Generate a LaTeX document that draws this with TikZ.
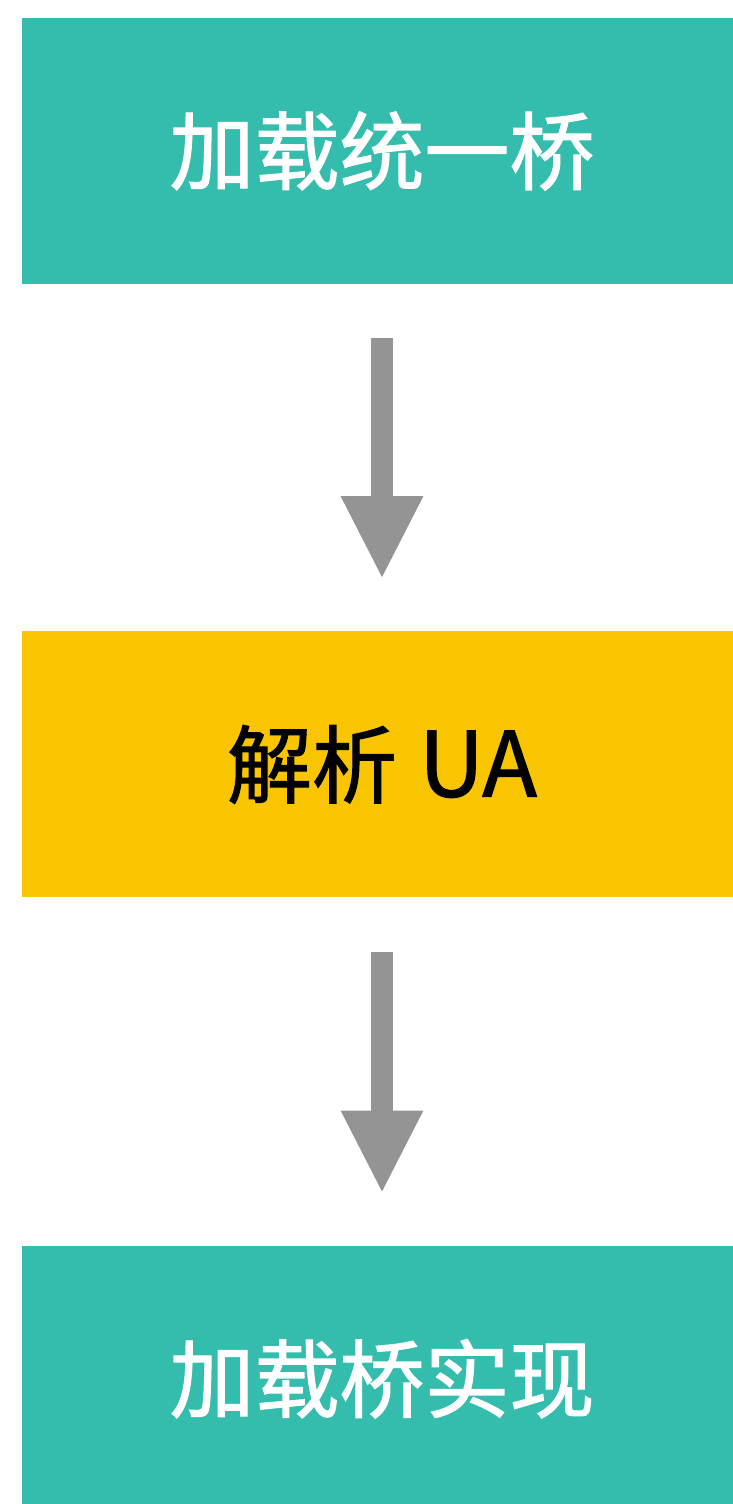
\documentclass[tikz,border=0pt]{standalone}
\usepackage{fontspec}
\newfontfamily\cjk[UprightFeatures={FakeBold=1.3}]{Noto Sans CJK SC}
\usetikzlibrary{arrows.meta,positioning}

\definecolor{bridgeteal}{HTML}{34BCAD}
\definecolor{uayellow}{HTML}{F9C500}
\definecolor{flowgrey}{HTML}{949494}

\tikzset{
  stepbox/.style={minimum width=720pt, minimum height=266pt, inner sep=0pt,
    font=\cjk\fontsize{85}{85}\selectfont},
  flowarrow/.style={draw=flowgrey, line width=22pt,
    -{Triangle[width=76pt,length=83pt]}, shorten <=54pt, shorten >=52pt},
}

\begin{document}
\begin{tikzpicture}[x=1pt,y=1pt]
        \useasboundingbox (0,0) rectangle (733,-1504);
        \clip (0,0) rectangle (733,-1504);

        % Boxes
        \node[stepbox, fill=bridgeteal, text=white] (load) at (382,-151) {加载统一桥};
        \node[stepbox, fill=uayellow, text=black, below=347pt of load] (parse) {解析\hspace{22pt}{\fontsize{90}{90}\selectfont UA}};
        \node[stepbox, fill=bridgeteal, text=white, below=348pt of parse] (impl) {加载桥实现};

        % Arrows
        \draw[flowarrow] (load.south -| 382,0) -- (parse.north -| 382,0);
        \draw[flowarrow] (parse.south -| 382,0) -- (impl.north -| 382,0);
    \end{tikzpicture}
\end{document}
